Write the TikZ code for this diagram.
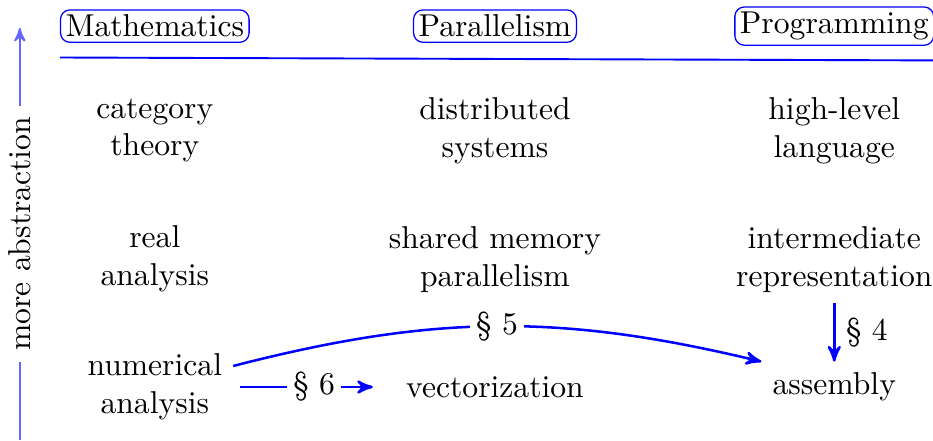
\documentclass[tikz,border=0pt]{standalone}
\usepackage{tikz}
\usetikzlibrary{positioning, arrows}
\tikzset{
	>=stealth', % arrow heads
	field/.style={draw=blue, rounded corners=3pt, inner sep=1.6pt}, % the three column titles
	item/.style={align=center}, % the topics in each column
	link/.style={->, blue, thick}, % the section arrows
	sect/.style={fill=white, text=black, inner sep=2pt}, % section labels sitting on a link
}

\begin{document}
\begin{tikzpicture}
		\useasboundingbox (0,0) rectangle (10.367,-4.889);

		% column titles
		\node[field] (math) at (1.72,-0.29) {Mathematics};
		\node[field] (par) at (5.50,-0.29) {Parallelism};
		\node[field] (prog) at (9.27,-0.29) {Programming};
		\draw[blue, line width=0.6pt] ([yshift=-4.6pt]math.south west) -- ([yshift=-4.6pt]prog.south east);

		% topics
		\node[item] (cat) at (1.72,-1.45) {category\\theory};
		\node[item] (dist) at (5.50,-1.45) {distributed\\systems};
		\node[item] (hll) at (9.27,-1.45) {high-level\\language};

		\node[item] (real) at (1.72,-2.88) {real\\analysis};
		\node[item] (shm) at (5.50,-2.88) {shared memory\\parallelism};
		\node[item] (ir) at (9.27,-2.88) {intermediate\\representation};

		\node[item] (num) at (1.72,-4.30) {numerical\\analysis};
		\node[item] (vec) at (5.50,-4.30) {vectorization};
		\node[item] (asm) at (9.27,-4.30) {assembly};

		% abstraction axis
		\coordinate (low) at (0.22,-4.889);
		\coordinate (high) at (0.22,-0.31);
		\draw[->, blue!60, line width=0.6pt] (low) -- node[sloped, fill=white, text=black] {more abstraction} (high);

		% sections
		\draw[link] (num.15) to[bend left=14] node[sect] {\S~5} (asm.north west);
		\draw[link, shorten <=2pt, shorten >=7pt] (num) -- node[sect] {\S~6} (vec);
		\draw[link] (ir) -- node[right, text=black] {\S~4} (asm);

	\end{tikzpicture}
\end{document}
